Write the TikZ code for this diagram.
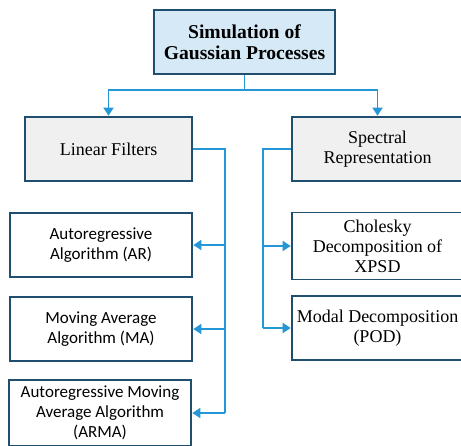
\documentclass[tikz,border=0pt]{standalone}
\usepackage{fontspec}
\setmainfont{Liberation Serif}
\newfontfamily\calib{Carlito}
\usetikzlibrary{arrows.meta,calc}
\definecolor{linec}{HTML}{2596D6}
\definecolor{boxb}{HTML}{1F4E6E}
\definecolor{topfill}{HTML}{D5E9F6}
\definecolor{grayfill}{HTML}{F0F0F0}
\tikzset{
  basebox/.style={draw=boxb, line width=1.6pt, rectangle, align=center, inner sep=1pt, font=\fontsize{18}{20}\selectfont},
  topbox/.style={basebox, fill=topfill, minimum width=181pt, minimum height=64pt, font=\bfseries\fontsize{19.6}{21.5}\selectfont},
  graybox/.style={basebox, fill=grayfill, minimum height=64pt},
  whitebox/.style={basebox, fill=white, minimum height=64pt},
  sansbox/.style={whitebox, minimum width=182pt, font=\calib\fontsize{17}{20}\selectfont},
  conn/.style={draw=linec, line width=1.5pt},
  arr/.style={conn, -{Triangle[length=8pt,width=10pt]}, shorten >=0.5pt}
}
\begin{document}
\begin{tikzpicture}[x=1pt,y=-1pt]
\useasboundingbox (0,0) rectangle (461,445);
\clip (0,0) rectangle (461,445);
\node[topbox] (top) at (244.5,42) {Simulation of\\Gaussian Processes};
\node[graybox, minimum width=167pt] (lf) at (108.5,149) {Linear Filters};
\node[graybox, minimum width=171pt] (sr) at (377.5,149) {Spectral\\Representation};
\node[whitebox, minimum width=171pt, minimum height=67pt] (ch) at (377.5,246) {Cholesky\\Decomposition of\\XPSD};
\node[whitebox, minimum width=171pt] (md) at (377.5,328) {Modal Decomposition\\(POD)};
\node[sansbox] (ar) at (101,245) {Autoregressive\\Algorithm (AR)};
\node[sansbox] (ma) at (101,329) {Moving Average\\Algorithm (MA)};
\node[sansbox, minimum height=66pt] (arma) at (100,413) {Autoregressive Moving\\Average Algorithm\\(ARMA)};
\coordinate (split) at (245.5,90);
\coordinate (lbus) at (225,0);
\coordinate (rbus) at (263,0);
\draw[conn] (top.south) -- (top.south |- split);
\draw[arr] (top.south |- split) -| (lf.north);
\draw[arr] (top.south |- split) -| (sr.north);
\draw[conn] (lf.east) -- (lf.east -| lbus) -- (lbus |- arma.east);
\draw[arr] (lbus |- ar.east) -- (ar.east);
\draw[arr] (lbus |- ma.east) -- (ma.east);
\draw[arr] (lbus |- arma.east) -- (arma.east);
\draw[conn] (sr.west) -- (sr.west -| rbus) -- (rbus |- md.west);
\draw[arr] (rbus |- ch.west) -- (ch.west);
\draw[arr] (rbus |- md.west) -- (md.west);
\end{tikzpicture}
\end{document}
